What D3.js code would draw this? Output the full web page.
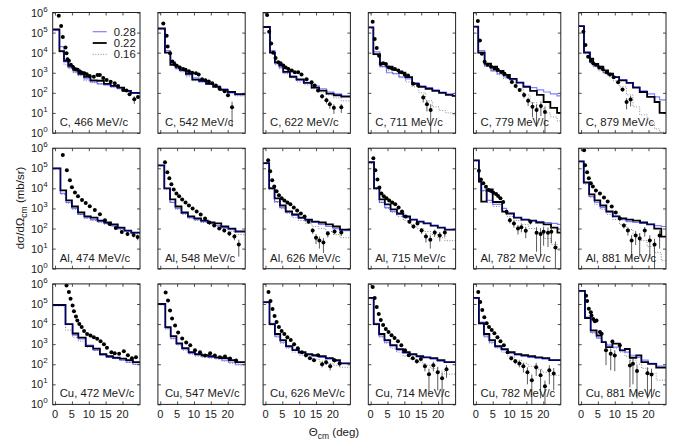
<!DOCTYPE html>
<html><head><meta charset="utf-8">
<script src="https://cdn.jsdelivr.net/npm/d3@7"></script>
<style>
body{margin:0;background:#fff}
svg{display:block}
text{font-family:"Liberation Sans",Arial,Helvetica,sans-serif;fill:#1a1a1a}
</style>
</head><body><svg id="chart" width="683" height="441"></svg>
<script>
// ---------- DATA ----------
const panelLabels = [
  "C, 466 MeV/c","C, 542 MeV/c","C, 622 MeV/c","C, 711 MeV/c","C, 779 MeV/c","C, 879 MeV/c",
  "Al, 474 MeV/c","Al, 548 MeV/c","Al, 626 MeV/c","Al, 715 MeV/c","Al, 782 MeV/c","Al, 881 MeV/c",
  "Cu, 472 MeV/c","Cu, 547 MeV/c","Cu, 626 MeV/c","Cu, 714 MeV/c","Cu, 782 MeV/c","Cu, 881 MeV/c"];
const xTicks = [0,5,10,15,20];
const yTickExps = [0,1,2,3,4,5,6];
const legendLabels = ["0.28","0.22","0.16"];

// histogram bin edges (deg) per panel
const binEdges = [
  [-0.7,1.3,2.65,3.9,5.4,6.9,8.6,10.5,12.5,14.5,16.5,18.5,20.5,22.5,25.2],
  [-0.7,1.4,3.0,4.5,5.8,7.6,9.5,11.5,13.6,15.7,17.8,20.0,22.2,25.2],
  [-0.7,1.34,2.8,4.1,5.27,7.25,9.2,11.4,13.7,15.9,18.1,20.25,22.5,25.2],
  [-0.7,0.8,2.75,4.7,6.5,8.4,10.3,12.3,14.3,16.3,18.3,20.3,22.3,24.3,25.2],
  [-0.7,0.7,2.6,4.5,6.3,8.2,10.1,12.1,14.1,16.1,18.1,20.1,22.1,24.1,25.2],
  [-0.7,0.87,2.64,3.6,5.1,6.6,8.0,9.5,11.3,13.5,15.4,17.4,19.6,21.8,23.3,25.2],
  [-0.7,1.6,3.3,5.0,6.8,8.7,10.6,12.6,14.6,16.6,18.6,20.6,22.6,25.2],
  [-0.7,1.2,2.9,4.5,6.3,8.2,10.1,12.1,14.1,16.1,18.1,20.2,22.3,25.2],
  [-0.7,1.1,2.7,4.3,6.0,7.9,9.8,11.8,13.8,15.8,17.9,20.0,22.1,25.2],
  [-0.7,1.0,2.6,4.2,5.9,7.8,9.7,11.7,13.7,15.7,17.8,19.9,22.0,25.2],
  [-0.7,0.9,1.6,3.2,5.0,7.8,9.1,11.3,13.5,15.7,17.9,20.1,22.3,24.2,25.2],
  [-0.7,0.8,2.4,4.0,5.7,7.5,9.4,11.4,13.4,15.4,17.5,19.6,21.7,23.8,25.2],
  [-0.7,3.1,5.2,6.9,9.1,11.3,13.3,15.25,17.2,19.2,21.1,23.1,25.2],
  [-0.7,1.5,3.1,4.8,6.5,8.4,10.3,12.3,14.3,16.3,18.3,20.3,22.3,25.2],
  [-0.7,1.2,2.8,4.4,6.1,8.0,9.9,11.9,13.9,15.9,17.9,20.0,22.1,25.2],
  [-0.7,0.9,2.5,4.1,5.8,7.7,9.6,11.6,13.6,15.6,17.7,19.8,21.9,25.2],
  [-0.7,0.9,2.4,4.0,5.7,7.6,9.5,11.5,13.5,15.5,17.6,19.7,21.8,25.2],
  [-0.7,1.16,2.85,4.6,6.1,7.37,9.3,11.5,13.0,14.45,16.4,17.9,19.9,22.3,25.2]
];

// simulation 0.28 (blue)
const hist028 = [
  [1.3e5,2.0e4,3.5e3,1.8e3,1.1e3,790,500,350,280,250,200,160,126,100],
  [1.6e5,1.25e4,3.5e3,1.6e3,1.25e3,790,560,350,260,220,160,100,85],
  [1.9e5,1.25e4,2.8e3,1.8e3,1.0e3,710,420,330,220,160,110,89,71],
  [1.8e5,1.1e4,2.0e3,1.0e3,890,630,500,320,220,180,140,110,89,71],
  [2.0e5,1.25e4,2.2e3,1.25e3,890,630,450,320,220,180,140,110,89,71],
  [2.1e5,1.1e4,3.2e3,2.2e3,1.6e3,1.0e3,790,630,450,320,200,126,89,63,45],
  [1.0e5,5.6e3,2.0e3,1.0e3,500,350,280,220,180,140,100,79,63],
  [1.4e5,1.0e4,2.0e3,1.0e3,560,350,280,220,180,140,110,89,71],
  [1.8e5,1.1e4,2.2e3,1.1e3,630,450,320,250,200,160,126,100,79],
  [2.0e5,1.1e4,2.0e3,1.1e3,710,500,350,280,220,180,140,110,89],
  [2.5e5,2.5e4,7.9e3,2.5e3,1.6e3,1.0e3,560,350,280,250,220,200,180,160],
  [2.2e5,1.8e4,4.0e3,2.0e3,1.1e3,630,400,280,220,200,180,160,140,126],
  [8.9e4,1.0e4,2.8e3,1.8e3,890,500,280,220,200,160,126,100],
  [1.0e5,6.3e3,2.0e3,1.0e3,560,350,280,250,220,200,160,126,100],
  [1.25e5,1.1e4,2.5e3,1.25e3,710,500,350,280,250,220,180,140,110],
  [2.0e5,1.1e4,2.5e3,1.25e3,790,500,350,280,250,220,180,140,126],
  [2.0e5,1.25e4,2.5e3,1.25e3,710,500,350,280,250,220,200,180,160],
  [4.5e5,2.2e4,4.0e3,2.0e3,1.25e3,890,710,500,400,280,220,160,110,80]
];
// simulation 0.22 (black)
const hist022 = [
  [1.45e5,1.2e4,3.9e3,2.2e3,1.4e3,890,630,420,400,280,220,180,126,100],
  [1.6e5,1.0e4,2.5e3,2.0e3,1.4e3,890,450,400,280,200,140,110,85],
  [1.9e5,1.0e4,3.3e3,2.3e3,1.1e3,630,470,310,180,130,91,76,65],
  [1.8e5,8.5e3,2.75e3,2.0e3,1.4e3,1.0e3,600,280,200,160,126,100,79,71],
  [2.0e5,1.0e4,2.8e3,2.0e3,1.25e3,790,500,320,200,126,79,35,18,10],
  [2.1e5,1.0e4,5.0e3,2.75e3,2.0e3,1.3e3,890,600,420,310,180,110,63,35,10],
  [1.0e5,7.9e3,2.5e3,1.25e3,630,400,350,250,200,160,110,79,63],
  [1.4e5,1.0e4,2.8e3,1.25e3,630,400,320,250,200,180,126,100,71],
  [1.8e5,1.0e4,3.2e3,1.4e3,710,500,350,280,220,200,160,126,89],
  [2.0e5,1.0e4,2.8e3,1.6e3,890,560,400,280,220,180,140,110,89],
  [2.5e5,2.2e4,2.2e3,8.9e3,2.1e3,690,560,350,280,250,200,160,110,63],
  [2.2e5,2.0e4,5.0e3,2.5e3,1.4e3,710,400,320,280,250,200,160,100,40],
  [8.9e4,1.0e4,3.4e3,2.1e3,790,600,320,250,210,190,160,126],
  [1.0e5,7.1e3,2.5e3,1.1e3,630,400,320,280,250,220,200,160,126],
  [1.25e5,1.0e4,3.2e3,1.6e3,790,500,400,320,280,250,200,160,110],
  [2.0e5,1.0e4,3.2e3,1.6e3,890,560,400,320,250,220,200,160,126],
  [2.0e5,1.1e4,3.2e3,1.6e3,790,560,400,320,280,250,220,200,160],
  [4.5e5,2.0e4,4.8e3,2.7e3,1.25e3,710,1.05e3,490,575,210,275,126,105,68]
];
// simulation 0.16 (grey dotted)
const hist016 = [
  [1.25e5,1.0e4,2.5e3,1.6e3,1.0e3,710,400,320,280,250,200,160,126,100],
  [1.4e5,1.0e4,2.8e3,1.6e3,1.1e3,630,400,350,280,200,140,100,70],
  [1.8e5,1.0e4,2.5e3,1.6e3,890,560,350,250,160,110,79,56,40],
  [1.6e5,7.9e3,2.0e3,1.25e3,890,560,350,200,100,40,20,13,10,8],
  [1.8e5,8.9e3,2.0e3,1.25e3,790,500,320,160,79,32,16,10,6.3,4],
  [2.0e5,8.9e3,3.2e3,2.0e3,1.25e3,890,630,400,200,79,20,8,3.2,1.6,1.1],
  [8.9e4,5.0e3,1.8e3,890,500,320,250,200,160,126,89,71,56],
  [1.25e5,8.9e3,2.0e3,890,500,320,250,200,160,126,100,71,50],
  [1.6e5,8.9e3,2.0e3,1.0e3,560,350,250,180,126,100,71,50,35],
  [1.8e5,8.9e3,2.0e3,1.0e3,630,400,250,160,100,71,50,35,25],
  [2.2e5,2.0e4,7.1e3,2.0e3,1.25e3,790,400,250,160,100,63,32,16,8],
  [2.0e5,1.6e4,3.5e3,1.6e3,890,500,280,160,89,50,25,12.6,6.3,2.5],
  [7.9e4,5.0e3,2.2e3,1.4e3,710,500,280,220,190,160,126,100],
  [8.9e4,5.6e3,1.8e3,890,500,320,250,220,200,180,140,110,89],
  [1.1e5,8.9e3,2.2e3,1.1e3,630,400,280,220,180,140,110,89,71],
  [1.8e5,8.9e3,2.2e3,1.1e3,630,400,250,180,126,89,63,45,32],
  [1.8e5,1.0e4,2.2e3,1.1e3,630,400,250,160,110,79,56,40,28],
  [4.0e5,2.0e4,3.5e3,2.2e3,1.4e3,1.0e3,630,400,250,160,100,63,35,16]
];

// measured points: [angle (deg), dσ/dΩ (mb/sr), error]
const measured = [
  [[1.1,6.8e5,3e4],[1.8,2.1e5,1e4],[2.3,6.0e4,3e3],[3.1,1.8e4,1e3],[3.4,9.3e3,5e2],[3.7,4.7e3,3e2],[4.1,4.0e3,2e2],[4.7,2.5e3,150],[5.4,1.8e3,100],[6.1,1.5e3,80],[6.7,1.4e3,70],[7.4,1.15e3,60],[8.0,1.0e3,50],[8.7,950,50],[9.4,850,45],[10.3,690,40],[11.5,630,35],[12.6,780,40],[13.3,780,40],[14.3,540,30],[15.3,440,30],[16.5,360,25],[17.7,300,25],[18.7,220,20],[20.2,140,15],[21.2,130,15],[22.1,85,15],[23.5,48,20],[24.6,62,12]],
  [[0.9,2.8e5,1.5e4],[1.9,6.9e4,3e3],[2.2,2.0e4,1e3],[2.9,9.3e3,500],[3.6,3.6e3,200],[4.2,2.75e3,150],[4.9,2.2e3,110],[5.8,1.85e3,90],[6.8,1.55e3,80],[7.5,1.4e3,70],[8.5,1.2e3,60],[9.5,1.0e3,50],[10.6,950,50],[11.4,810,45],[12.4,470,30],[13.4,420,30],[14.4,370,25],[15.4,300,25],[16.5,230,20],[17.6,160,20],[19.1,120,15],[20.1,76,15],[21.3,19,17]],
  [[0.5,7.6e5,4e4],[1.1,1.1e5,6e3],[1.7,2.9e4,1.5e3],[2.3,1.0e4,500],[3.0,5.5e3,300],[3.8,3.3e3,170],[4.5,3.0e3,150],[5.3,2.3e3,120],[6.0,1.85e3,90],[6.8,1.55e3,80],[7.8,1.3e3,65],[8.7,1.07e3,55],[9.7,1.07e3,55],[10.7,810,45],[12.2,470,30],[13.7,340,30],[14.6,230,25],[15.6,130,25],[16.8,68,18],[18.1,43,14],[19.1,27,11],[20.3,18,9],[22.5,19,9]],
  [[0.6,3.5e5,2e4],[1.2,4.8e4,2.5e3],[1.8,1.7e4,900],[2.5,7.1e3,400],[3.0,2.75e3,300],[3.7,3.0e3,160],[4.5,2.75e3,140],[5.4,1.85e3,100],[6.2,1.7e3,90],[7.2,1.55e3,80],[8.2,1.3e3,70],[9.2,1.07e3,60],[10.1,810,50],[11.1,720,45],[12.6,280,40],[14.1,230,40],[15.6,58,25],[16.7,27,15],[17.8,14,13]],
  [[0.6,3.8e5,2e4],[1.2,4.0e4,2e3],[1.8,8.9e3,500],[2.6,3.5e3,200],[3.5,2.5e3,130],[4.5,2.0e3,100],[5.5,1.65e3,90],[6.5,1.4e3,75],[7.5,1.1e3,60],[8.5,890,50],[9.6,630,45],[10.7,350,40],[11.8,220,35],[13.0,140,30],[14.3,79,25],[15.5,40,18],[16.8,20,14],[18.0,14,12],[19.3,22,15],[20.5,11,10]],
  [[0.7,1.1e5,6e3],[1.3,2.4e4,1.2e3],[2.1,6.3e3,350],[2.9,4.0e3,200],[3.6,3.0e3,150],[4.4,2.5e3,130],[5.4,1.85e3,100],[6.4,1.55e3,80],[7.6,1.07e3,60],[8.6,810,50],[9.7,600,45],[11.0,340,35],[12.3,145,30],[13.5,35,20],[14.7,46,25]],
  [[2.3,4.6e5,2.5e4],[3.5,7.9e4,4e3],[4.4,2.5e4,1.3e3],[5.0,1.15e4,600],[5.9,6.3e3,330],[6.8,4.0e3,200],[8.0,2.6e3,130],[9.1,1.85e3,100],[10.3,1.3e3,70],[11.8,830,45],[13.3,520,30],[14.8,260,20],[16.2,170,18],[18.0,105,15],[19.8,68,12],[21.5,54,12],[23.3,48,12],[24.5,38,12]],
  [[1.4,2.0e5,1e4],[2.1,6.3e4,3e3],[2.7,3.2e4,1.6e3],[3.3,1.6e4,800],[4.0,8.9e3,450],[4.8,5.6e3,280],[5.6,4.0e3,200],[6.5,2.8e3,140],[7.5,2.0e3,100],[8.5,1.4e3,75],[9.6,1.0e3,55],[10.8,710,40],[12.0,500,30],[13.3,320,25],[14.6,200,20],[16.0,140,18],[17.5,100,15],[19.0,79,15],[20.5,56,14],[22.0,40,14],[23.3,16,12]],
  [[0.8,2.5e5,1.3e4],[1.4,7.1e4,3.5e3],[2.0,2.5e4,1.3e3],[2.6,1.25e4,650],[3.3,7.1e3,360],[4.0,4.5e3,230],[4.8,3.2e3,160],[5.6,2.5e3,130],[6.5,2.0e3,100],[7.4,1.6e3,80],[8.4,1.1e3,60],[9.4,790,45],[10.5,560,35],[11.6,400,30],[12.8,220,30],[14.0,79,25],[15.0,35,18],[16.0,25,15],[17.2,20,14],[18.5,56,20],[20.5,71,20],[22.5,63,20]],
  [[0.8,3.2e5,1.6e4],[1.4,7.9e4,4e3],[2.0,2.8e4,1.4e3],[2.6,1.1e4,550],[3.2,5.6e3,300],[3.9,4.0e3,200],[4.7,3.2e3,160],[5.5,2.5e3,130],[6.4,2.0e3,100],[7.3,1.6e3,80],[8.3,1.1e3,60],[9.3,710,45],[10.4,400,35],[11.5,220,30],[12.7,126,28],[13.9,180,30],[15.1,79,25],[16.4,40,20],[17.7,28,18],[19.0,63,25],[20.5,45,22],[22.0,63,25]],
  [[0.9,7.6e4,4e3],[1.5,2.8e4,1.5e3],[2.2,1.8e4,900],[3.0,1.2e4,600],[3.8,8.3e3,420],[4.5,7.4e3,370],[5.2,6.0e3,300],[6.0,5.2e3,260],[6.6,4.2e3,210],[7.3,3.2e3,170],[8.1,2.1e3,120],[9.1,690,150],[10.1,260,80],[11.3,180,70],[12.5,100,50],[13.5,115,50],[14.8,78,45],[16.2,220,60],[18.0,62,55],[19.2,54,50],[20.1,69,55],[21.4,62,50],[22.4,69,50],[23.6,11.5,11]],
  [[0.9,7.9e5,4e4],[1.2,1.4e5,7e3],[1.8,6.3e4,3e3],[2.3,3.2e4,1.6e3],[2.9,1.8e4,900],[3.5,1.25e4,650],[4.4,7.9e3,400],[5.6,5.6e3,300],[6.8,3.5e3,180],[7.9,2.2e3,120],[9.1,1.25e3,80],[10.3,630,60],[11.5,320,50],[12.7,140,40],[13.9,79,35],[15.0,25,22],[16.2,45,30],[17.4,32,28],[18.9,79,40],[20.4,25,22],[21.8,16,15],[23.3,45,35]],
  [[3.4,8.3e5,4e4],[4.1,3.9e5,2e4],[4.6,1.8e5,9e3],[5.2,8.5e4,4e3],[5.6,4.4e4,2.2e3],[6.2,2.4e4,1.2e3],[6.6,1.5e4,750],[7.2,1.0e4,500],[7.9,7.1e3,360],[8.6,4.5e3,230],[9.5,3.2e3,160],[10.5,2.7e3,140],[11.5,2.2e3,110],[12.5,1.85e3,95],[13.5,1.4e3,70],[14.5,980,50],[15.4,660,40],[16.7,400,30],[17.7,350,30],[19.0,330,30],[20.4,440,35],[21.6,280,30],[22.8,200,25],[24.0,220,30]],
  [[1.6,3.7e5,2e4],[2.3,1.5e5,8e3],[2.9,4.8e4,2.5e3],[3.5,1.9e4,1e3],[4.4,8.5e3,450],[5.3,3.8e3,200],[6.5,1.9e3,100],[7.7,1.2e3,65],[8.9,870,50],[10.3,490,35],[11.8,390,30],[13.3,275,25],[14.8,350,30],[16.2,275,25],[17.7,220,25],[19.2,245,30],[20.7,195,30],[22.5,155,30]],
  [[0.9,4.0e5,2e4],[1.5,1.4e5,7e3],[2.1,5.6e4,2.8e3],[2.7,2.5e4,1.3e3],[3.3,1.25e4,650],[4.0,7.1e3,360],[4.8,4.5e3,230],[5.6,3.2e3,160],[6.5,2.2e3,110],[7.5,1.6e3,80],[8.5,1.0e3,55],[9.6,630,40],[10.8,400,35],[12.0,280,30],[13.2,200,30],[14.4,160,30],[15.6,280,40],[16.8,100,30],[18.0,126,35],[19.2,79,30],[20.5,160,40],[22.0,110,35]],
  [[0.6,7.1e5,3.5e4],[1.2,2.0e5,1e4],[1.8,7.1e4,3.5e3],[2.4,3.2e4,1.6e3],[3.0,1.6e4,800],[3.7,8.9e3,450],[4.5,5.6e3,280],[5.3,4.0e3,200],[6.2,2.8e3,140],[7.1,2.0e3,100],[8.1,1.4e3,75],[9.1,890,55],[10.2,500,45],[11.3,280,40],[12.5,200,40],[13.7,140,35],[14.9,180,40],[16.1,79,35],[17.3,32,28],[18.6,89,45],[19.9,40,35],[21.2,20,19],[22.5,56,35]],
  [[0.7,4.0e5,2e4],[1.3,1.25e5,6e3],[1.9,5.0e4,2.5e3],[2.5,2.2e4,1.1e3],[3.2,1.1e4,550],[3.9,7.1e3,360],[4.7,5.0e3,250],[5.5,3.5e3,180],[6.4,2.2e3,120],[7.3,1.4e3,80],[8.3,890,60],[9.4,400,50],[10.5,200,45],[11.7,140,40],[12.9,110,40],[14.1,79,40],[15.3,40,30],[16.6,16,15],[17.9,71,45],[19.2,28,26],[20.5,8,7.5],[21.8,50,40],[23.1,35,30]],
  [[1.5,2.6e5,1.3e4],[1.8,1.4e5,7e3],[2.3,5.8e4,3e3],[2.9,3.9e4,2e3],[3.1,2.7e4,1.4e3],[3.6,1.8e4,900],[4.1,1.4e4,700],[4.6,1.5e4,750],[5.6,4.0e3,250],[6.1,3.3e3,200],[7.4,490,400],[8.8,330,280],[9.3,1.35e3,300],[10.0,275,230],[11.5,870,250],[14.5,87,80],[15.4,105,95],[16.6,46,44],[19.7,36,34],[20.9,31,29]]
];

// ---------- LAYOUT ----------
const svg = d3.select("#chart");
const W = 87.3, H = 120.5;
const colLeft = c => 52.7 + c * 105.2;
const rowTop = r => 12.5 + r * 135.7;

const x = d3.scaleLinear().domain([-0.7, 25.2]).range([0, W]);
const y = d3.scaleLog().domain([1, 1e6]).range([H, 0]);

const stepLine = d3.line().curve(d3.curveStepAfter)
  .x(d => x(d[0])).y(d => y(d[1]));
const histPts = (edges, vals) => edges.map((e, i) => [e, vals[Math.min(i, vals.length - 1)]]);

const frameColor = "#222";

panelLabels.forEach((label, i) => {
  const c = i % 6, r = Math.floor(i / 6);
  const g = svg.append("g").attr("transform", `translate(${colLeft(c)},${rowTop(r)})`);
  const clipId = "clip" + i;
  g.append("clipPath").attr("id", clipId).append("rect")
    .attr("x", 0).attr("y", 0).attr("width", W).attr("height", H);

  // ticks (inside) via axes
  const tickStyle = sel => { sel.select(".domain").remove();
    sel.selectAll("line").attr("stroke", frameColor).attr("stroke-width", 0.8); sel.selectAll("text").remove(); };
  g.append("g").call(d3.axisBottom(x).tickValues(xTicks).tickSize(3))
    .attr("transform", `translate(0,${H - 3})`).call(tickStyle);
  g.append("g").call(d3.axisTop(x).tickValues(xTicks).tickSize(-3)).call(tickStyle);
  g.append("g").call(d3.axisLeft(y).tickValues(yTickExps.map(e => Math.pow(10, e))).tickSize(-3)).call(tickStyle);
  g.append("g").attr("transform", `translate(${W},0)`)
    .call(d3.axisRight(y).tickValues(yTickExps.map(e => Math.pow(10, e))).tickSize(-3)).call(tickStyle);

  const plot = g.append("g").attr("clip-path", `url(#${clipId})`);
  const edges = binEdges[i];

  plot.append("path").datum(histPts(edges, hist016[i])).attr("d", stepLine)
    .attr("fill", "none").attr("stroke", "#8a8a8a").attr("stroke-width", 1)
    .attr("stroke-dasharray", "1,1.6");
  plot.append("path").datum(histPts(edges, hist022[i])).attr("d", stepLine)
    .attr("fill", "none").attr("stroke", "#000").attr("stroke-width", 1.8);
  plot.append("path").datum(histPts(edges, hist028[i])).attr("d", stepLine)
    .attr("fill", "none").attr("stroke", "#0000ff").attr("stroke-opacity", 0.5).attr("stroke-width", 1.2);

  // error bars
  plot.selectAll(".eb").data(measured[i]).join("line")
    .attr("x1", d => x(d[0])).attr("x2", d => x(d[0]))
    .attr("y1", d => y(d[1] + d[2]))
    .attr("y2", d => y(Math.max(d[1] - d[2], 0.3)))
    .attr("stroke", "#333").attr("stroke-width", 0.8);
  plot.selectAll(".pt").data(measured[i]).join("circle")
    .attr("cx", d => x(d[0])).attr("cy", d => y(d[1])).attr("r", 2)
    .attr("fill", "#000");

  // frame
  g.append("rect").attr("x", 0).attr("y", 0).attr("width", W).attr("height", H)
    .attr("fill", "none").attr("stroke", frameColor).attr("stroke-width", 1);

  // panel label
  g.append("text").attr("x", 7).attr("y", H - 7).attr("font-size", 11.3).text(label);

  // y tick labels on first column
  if (c === 0) {
    yTickExps.forEach(e => {
      const t = g.append("text").attr("x", -5).attr("y", y(Math.pow(10, e)) + 4)
        .attr("text-anchor", "end").attr("font-size", 11);
      t.append("tspan").text("10");
      t.append("tspan").attr("dy", -5).attr("font-size", 8).text(e);
    });
  }
  // x tick labels on bottom row
  if (r === 2) {
    xTicks.forEach(v => {
      g.append("text").attr("x", x(v)).attr("y", H + 14).attr("text-anchor", "middle")
        .attr("font-size", 11).text(v);
    });
  }
  // legend in first panel
  if (i === 0) {
    const styles = [
      {stroke: "#0000ff", op: 0.5, w: 1.2, dash: null},
      {stroke: "#000", op: 1, w: 1.8, dash: null},
      {stroke: "#8a8a8a", op: 1, w: 1, dash: "1,1.6"}];
    legendLabels.forEach((lab, k) => {
      const ly = 19.2 + k * 11.3;
      g.append("line").attr("x1", 40).attr("x2", 54).attr("y1", ly).attr("y2", ly)
        .attr("stroke", styles[k].stroke).attr("stroke-opacity", styles[k].op)
        .attr("stroke-width", styles[k].w).attr("stroke-dasharray", styles[k].dash);
      g.append("text").attr("x", 61).attr("y", ly + 4).attr("font-size", 11.3).text(lab);
    });
  }
});

// axis titles
const xt = svg.append("text").attr("x", 334).attr("y", 436).attr("text-anchor", "middle").attr("font-size", 11.5);
xt.append("tspan").text("Θ");
xt.append("tspan").attr("dy", 3).attr("font-size", 8.5).text("cm");
xt.append("tspan").attr("dy", -3).text(" (deg)");

const yt = svg.append("text").attr("transform", "translate(24,208) rotate(-90)")
  .attr("text-anchor", "middle").attr("font-size", 11.5);
yt.append("tspan").text("dσ/dΩ");
yt.append("tspan").attr("dy", 3).attr("font-size", 8.5).text("cm");
yt.append("tspan").attr("dy", -3).text(" (mb/sr)");
</script>
</body></html>
